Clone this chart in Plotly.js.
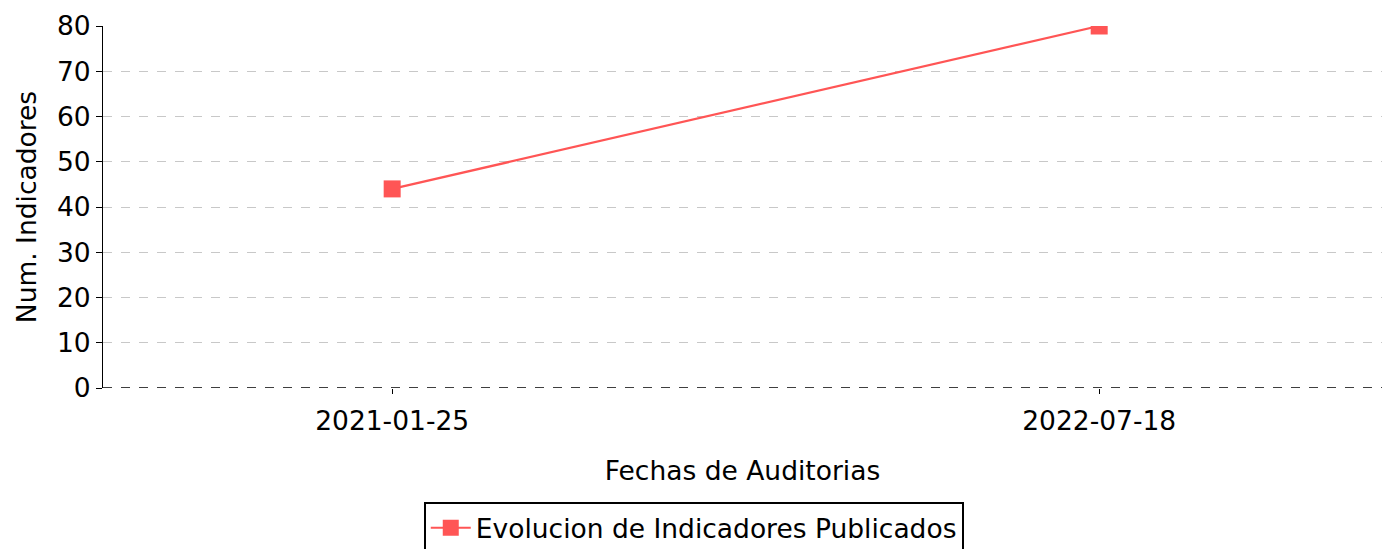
<!DOCTYPE html>
<html>
<head>
<meta charset="utf-8">
<script src="https://cdn.plot.ly/plotly-3.0.1.min.js"></script>
<style>html,body{margin:0;padding:0;background:#fff;}#chart{width:1382px;height:549px;}</style>
</head>
<body>
<div id="chart"></div>
<script>
const fechas = ["2021-01-25", "2022-07-18"];
const indicadores = [44, 80];
const serieNombre = "Evolucion de Indicadores Publicados";
const yTicks = [0, 10, 20, 30, 40, 50, 60, 70, 80];

const FONT = "DejaVu Sans, sans-serif";
const FS = 26.5;
const trace = {
  x: fechas,
  y: indicadores,
  type: "scatter",
  mode: "lines+markers",
  name: serieNombre,
  line: {color: "#ff5555", width: 2.2},
  marker: {symbol: "square", size: 17, color: "#ff5555"},
  cliponaxis: true
};
const layout = {
  width: 1382, height: 549,
  margin: {l: 103, r: 0, t: 26, b: 161},
  paper_bgcolor: "#fff", plot_bgcolor: "#fff",
  font: {family: FONT, size: FS, color: "#000"},
  showlegend: true,
  legend: {
    orientation: "h", x: 0.502, xref: "container", xanchor: "center",
    y: 1 - 502 / 549, yref: "container", yanchor: "top",
    bordercolor: "#000", borderwidth: 2, font: {family: FONT, size: FS},
    itemwidth: 40
  },
  xaxis: {
    type: "category",
    range: [-0.409, 1.4],
    showgrid: false, zeroline: false, showline: false,
    ticks: "outside", ticklen: 5, tickcolor: "#000", tickwidth: 1,
    ticklabelstandoff: 4,
    tickfont: {family: FONT, size: FS},
    title: {text: "Fechas de Auditorias", font: {family: FONT, size: FS}, standoff: 26},
    automargin: false
  },
  yaxis: {
    range: [0, 80],
    tickvals: yTicks,
    showgrid: true, gridcolor: "#c8c8c8", griddash: "dash", gridwidth: 1,
    zeroline: false,
    showline: true, linecolor: "#000", linewidth: 1,
    ticks: "outside", ticklen: 6, tickcolor: "#000",
    tickfont: {family: FONT, size: FS},
    title: {text: "Num. Indicadores", font: {family: FONT, size: FS}, standoff: 12},
    automargin: false
  },
  shapes: [{
    type: "line", xref: "paper", yref: "y", x0: 0, x1: 1, y0: 0, y1: 0,
    line: {color: "#000", width: 1.3, dash: "dash"}
  }]
};
Plotly.newPlot("chart", [trace], layout, {displayModeBar: false, staticPlot: true});
</script>
</body>
</html>
